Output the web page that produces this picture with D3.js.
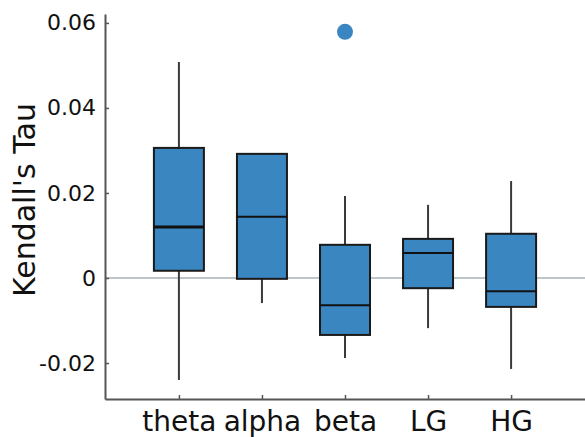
<!DOCTYPE html>
<html>
<head>
<meta charset="utf-8">
<script src="https://cdn.jsdelivr.net/npm/d3@7"></script>
<style>
  body { margin: 0; background: #fff; }
  svg { display: block; font-family: "DejaVu Sans", sans-serif; }
</style>
</head>
<body>
<script>
// box plot values
var categories = ["theta", "alpha", "beta", "LG", "HG"];
var whiskerLow = [-0.0240, -0.0059, -0.0188, -0.0118, -0.0214];
var q1 = [0.0017, -0.0002, -0.0134, -0.0024, -0.0068];
var median = [0.0120, 0.0144, -0.0064, 0.0059, -0.0031];
var q3 = [0.0306, 0.0292, 0.0078, 0.0092, 0.0104];
var whiskerHigh = [0.0508, 0.0292, 0.0193, 0.0172, 0.0228];
var outlierCats = ["beta"];
var outlierVals = [0.0579];
var yTicks = [-0.02, 0, 0.02, 0.04, 0.06];
var yTickLabels = ["-0.02", "0", "0.02", "0.04", "0.06"];

var W = 585, H = 437;
var plotLeft = 105, plotRight = 585, plotTop = 14, plotBottom = 399;
var boxW = 50;
var blue = "#3a86c0";

var svg = d3.select("body").append("svg")
    .attr("width", W)
    .attr("height", H);

var x = d3.scalePoint()
    .domain(categories)
    .range([plotLeft, plotRight])
    .padding(0.89);

var y = d3.scaleLinear()
    .domain([-0.02847, 0.0621])
    .range([plotBottom, plotTop]);

// zero line
svg.append("line")
    .attr("x1", plotLeft).attr("x2", plotRight)
    .attr("y1", y(0)).attr("y2", y(0))
    .attr("stroke", "#bcc6c9")
    .attr("stroke-width", 2);

var data = categories.map(function (c, i) {
    return { cat: c, lo: whiskerLow[i], q1: q1[i], med: median[i], q3: q3[i], hi: whiskerHigh[i] };
});

var g = svg.selectAll(".box")
    .data(data)
    .enter().append("g")
    .attr("class", "box");

// whiskers
g.append("line")
    .attr("x1", function (d) { return x(d.cat); })
    .attr("x2", function (d) { return x(d.cat); })
    .attr("y1", function (d) { return y(d.hi); })
    .attr("y2", function (d) { return y(d.q3); })
    .attr("stroke", "#3a3a3a").attr("stroke-width", 2);
g.append("line")
    .attr("x1", function (d) { return x(d.cat); })
    .attr("x2", function (d) { return x(d.cat); })
    .attr("y1", function (d) { return y(d.q1); })
    .attr("y2", function (d) { return y(d.lo); })
    .attr("stroke", "#3a3a3a").attr("stroke-width", 2);

// boxes
g.append("rect")
    .attr("x", function (d) { return x(d.cat) - boxW / 2; })
    .attr("y", function (d) { return y(d.q3); })
    .attr("width", boxW)
    .attr("height", function (d) { return y(d.q1) - y(d.q3); })
    .attr("fill", blue)
    .attr("stroke", "#1a1a1a")
    .attr("stroke-width", 2);

// medians
g.append("line")
    .attr("x1", function (d) { return x(d.cat) - boxW / 2; })
    .attr("x2", function (d) { return x(d.cat) + boxW / 2; })
    .attr("y1", function (d) { return y(d.med); })
    .attr("y2", function (d) { return y(d.med); })
    .attr("stroke", "#111")
    .attr("stroke-width", function (d, i) { return i === 0 ? 3 : 2; });

// outliers
svg.selectAll(".outlier")
    .data(outlierVals)
    .enter().append("circle")
    .attr("class", "outlier")
    .attr("cx", function (d, i) { return x(outlierCats[i]); })
    .attr("cy", function (d) { return y(d); })
    .attr("r", 8)
    .attr("fill", blue);

// y axis
var yAxis = d3.axisLeft(y)
    .tickValues(yTicks)
    .tickFormat(function (d, i) { return yTickLabels[i]; })
    .tickSizeInner(-4)
    .tickSizeOuter(0)
    .tickPadding(10);

var ya = svg.append("g")
    .attr("transform", "translate(" + plotLeft + ",0)")
    .call(yAxis);
ya.select(".domain").attr("stroke", "#555").attr("stroke-width", 2);
ya.selectAll(".tick line").attr("stroke", "#555").attr("stroke-width", 1.5);
ya.selectAll(".tick text")
    .attr("x", -9)
    .style("font-size", "22px")
    .style("font-family", "DejaVu Sans, sans-serif")
    .attr("fill", "#111");

// x axis
var xAxis = d3.axisBottom(x)
    .tickSizeInner(-4)
    .tickSizeOuter(0)
    .tickPadding(12);

var xa = svg.append("g")
    .attr("transform", "translate(0," + plotBottom + ")")
    .call(xAxis);
xa.select(".domain").attr("stroke", "#555").attr("stroke-width", 2);
xa.selectAll(".tick line").attr("stroke", "#555").attr("stroke-width", 1.5);
xa.selectAll(".tick text")
    .attr("y", 12)
    .attr("dy", "0.71em")
    .style("font-size", "28px")
    .style("font-family", "DejaVu Sans, sans-serif")
    .attr("fill", "#111");

// y label
svg.append("text")
    .attr("transform", "translate(35," + 200 + ") rotate(-90)")
    .attr("text-anchor", "middle")
    .style("font-size", "30px")
    .attr("fill", "#111")
    .text("Kendall's Tau");
</script>
</body>
</html>
